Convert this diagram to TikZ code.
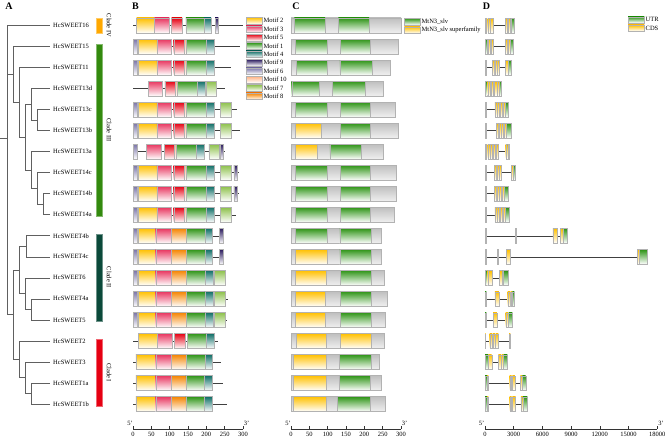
\documentclass[tikz,border=0pt]{standalone}
\usepackage{fontspec}
\setmainfont{Liberation Serif}
\definecolor{m1}{HTML}{2E9416}
\definecolor{m2}{HTML}{FFC000}
\definecolor{m3}{HTML}{E8355F}
\definecolor{m4}{HTML}{0E6E66}
\definecolor{m5}{HTML}{E60012}
\definecolor{m6}{HTML}{7A74A8}
\definecolor{m7}{HTML}{8CC04A}
\definecolor{m8}{HTML}{F58400}
\definecolor{m9}{HTML}{2A1A5E}
\definecolor{m10}{HTML}{FFB080}
\definecolor{utr}{HTML}{2E9416}
\definecolor{cds}{HTML}{FFC000}
\definecolor{cladeI}{HTML}{E60012}
\definecolor{cladeII}{HTML}{0B4A3A}
\definecolor{cladeIII}{HTML}{338A0E}
\definecolor{cladeIV}{HTML}{FFA800}
\begin{document}
\begin{tikzpicture}[x=1pt, y=-1pt,
  swtree/.style = {draw=gray!75!black, line width=0.6pt},
  swlbl/.style = {font=\fontsize{6.5}{7}\selectfont, inner sep=0pt},
  swpanel/.style = {font=\fontsize{10}{12}\selectfont\bfseries, inner sep=0pt},
  swclade/.style = {font=\fontsize{6.5}{7}\selectfont, inner sep=0pt, rotate=-90},
  swbox/.style = {draw=gray!60, line width=0.35pt, top color=#1, middle color=#1!85, bottom color=white},
  swgray/.style = {draw=gray!60, line width=0.35pt, top color=gray!50, bottom color=gray!12},
  swline/.style = {draw=black!75, line width=0.5pt},
  swaxis/.style = {draw=black!80, line width=0.5pt}
]
\useasboundingbox (0,0) rectangle (667,438);
% 标题
\node[swpanel] (pA) at (9,6.5) {A};
\node[swpanel] (pB) at (135.5,6.5) {B};
\node[swpanel] (pC) at (296,6.5) {C};
\node[swpanel] (pD) at (486.5,6.5) {D};

% 进化树
\foreach \row/\nm in {1/16, 2/15, 3/11, 4/13d, 5/13c, 6/13b, 7/13a, 8/14c, 9/14b, 10/14a,
  11/4b, 12/4c, 13/6, 14/4a, 15/5, 16/2, 17/3, 18/1a, 19/1b}{
  \pgfmathsetmacro\yy{25.5+21.03*(\row-1)}
  \coordinate (t\nm) at (50,\yy);
  \node[swlbl, anchor=west] (n\nm) at (53,\yy) {HcSWEET\nm};
}
\coordinate (xbase) at (0,138.2);
\coordinate (xroot) at (7,138.2);
\coordinate (xIII) at (13,74.46);
\coordinate (x11) at (19,102.39);
\coordinate (x13) at (25,137.22);
\coordinate (x13d) at (31,104.36);
\coordinate (x13cb) at (37,120.14);
\coordinate (x13a) at (31,170.08);
\coordinate (x14c) at (37,188.48);
\coordinate (x14ba) at (43,204.26);
\coordinate (xIIandI) at (13,314.66);
\coordinate (xII) at (19,269.97);
\coordinate (x4bc) at (26,246.32);
\coordinate (x6) at (25,293.63);
\coordinate (x4a5) at (31,309.41);
\coordinate (xI) at (19,359.36);
\coordinate (x3) at (25,377.76);
\coordinate (x1ab) at (31,393.53);
\draw[swtree] (xbase) -- (xroot);
\foreach \p/\q in {xroot/t16, xroot/xIII, xroot/xIIandI, xIII/t15, xIII/x11, x11/t11, x11/x13,
  x13/x13d, x13/x13a, x13d/t13d, x13d/x13cb, x13cb/t13c, x13cb/t13b, x13a/t13a, x13a/x14c,
  x14c/t14c, x14c/x14ba, x14ba/t14b, x14ba/t14a, xIIandI/xII, xIIandI/xI, xII/x4bc, xII/x6,
  x4bc/t4b, x4bc/t4c, x6/t6, x6/x4a5, x4a5/t4a, x4a5/t5, xI/t2, xI/x3, x3/t3, x3/x1ab,
  x1ab/t1a, x1ab/t1b}
  \draw[swtree] (\p) |- (\q);

% 分组
\draw[draw=cladeIV!60, fill=cladeIV] (96.5,18.5) rectangle (102.5,33.5);
\draw[draw=cladeIII!60, fill=cladeIII] (96.5,44) rectangle (102.5,216.5);
\draw[draw=cladeII!60, fill=cladeII] (96.5,234) rectangle (102.5,321.5);
\draw[draw=cladeI!60, fill=cladeI] (96.5,339) rectangle (102.5,406);
\node[swclade] (kIV) at (109,25.5) {Clade IV};
\node[swclade] (kIII) at (109,130) {Clade III};
\node[swclade] (kII) at (109,277.5) {Clade II};
\node[swclade] (kI) at (109,372.5) {Clade I};

% 基序
\foreach \row/\len/\mlist in {
  1/301/{10/58/m2, 58/99/m3, 105/134/m5, 144/194/m1, 194/213/m4, 224/233/m9},
  2/292/{1/12/m6, 14/65/m2, 65/105/m3, 111/140/m5, 140/145/m10, 145/199/m1, 199/221/m4},
  3/267/{1/12/m6, 14/65/m2, 65/105/m3, 111/140/m5, 140/145/m10, 145/199/m1, 199/221/m4},
  4/251/{42/80/m3, 87/116/m5, 116/121/m10, 121/176/m1, 176/196/m4, 199/226/m7},
  5/283/{1/12/m6, 14/65/m2, 65/105/m3, 111/140/m5, 140/145/m10, 145/199/m1, 199/221/m4, 239/267/m7},
  6/292/{1/12/m6, 14/65/m2, 65/105/m3, 111/140/m5, 140/145/m10, 145/199/m1, 199/221/m4, 239/267/m7},
  7/251/{1/12/m6, 37/78/m3, 85/113/m5, 113/118/m10, 118/172/m1, 172/193/m4, 207/235/m7, 237/247/m9},
  8/288/{1/12/m6, 14/65/m2, 65/105/m3, 111/140/m5, 140/145/m10, 145/199/m1, 199/221/m4, 239/267/m7, 275/284/m9},
  9/288/{1/12/m6, 14/65/m2, 65/105/m3, 111/140/m5, 140/145/m10, 145/199/m1, 199/221/m4, 239/267/m7, 275/284/m9},
  10/280/{1/12/m6, 14/65/m2, 65/105/m3, 111/140/m5, 140/145/m10, 145/199/m1, 199/221/m4, 239/267/m7},
  11/245/{1/11/m6, 13/62/m2, 62/105/m3, 105/146/m8, 146/196/m1, 196/217/m4, 235/245/m9},
  12/245/{1/11/m6, 13/62/m2, 62/105/m3, 105/146/m8, 146/196/m1, 196/217/m4, 235/245/m9},
  13/251/{1/11/m6, 13/62/m2, 62/105/m3, 105/146/m8, 146/196/m1, 196/219/m4, 221/251/m7},
  14/258/{1/11/m6, 13/62/m2, 62/105/m3, 105/146/m8, 146/196/m1, 196/219/m4, 221/251/m7},
  15/256/{1/11/m6, 13/62/m2, 62/105/m3, 105/146/m8, 146/196/m1, 196/219/m4, 221/251/m7},
  16/231/{14/66/m2, 66/108/m3, 113/142/m5, 149/199/m1, 199/220/m4},
  17/240/{8/62/m2, 62/105/m3, 105/146/m8, 146/198/m1, 198/217/m4},
  18/245/{8/62/m2, 62/103/m3, 103/144/m8, 144/195/m1, 195/215/m4},
  19/256/{8/62/m2, 62/103/m3, 103/144/m8, 144/195/m1, 195/215/m4}}{
  \pgfmathsetmacro\yy{25.5+21.03*(\row-1)}
  \draw[swline] (133,\yy) -- ({133+0.3667*\len},\yy);
  \foreach \ms/\me/\mc in \mlist
    \draw[swbox=\mc] ({133+0.3667*\ms},{\yy-7.5}) rectangle ({133+0.3667*\me},{\yy+7.5});
}
\foreach \k/\mc/\txt in {0/m2/Motif 2, 1/m3/Motif 3, 2/m5/Motif 5, 3/m1/Motif 1, 4/m4/Motif 4,
  5/m9/Motif 9, 6/m6/Motif 6, 7/m10/Motif 10, 8/m7/Motif 7, 9/m8/Motif 8}{
  \pgfmathsetmacro\ly{20.7+8.4*\k}
  \draw[swbox=\mc] (246,{\ly-3.3}) rectangle (262,{\ly+3.3});
  \node[swlbl, anchor=west] (lgB\k) at (263.5,\ly) {\txt};
}

% 结构域
\foreach \row/\len/\mlist in {
  1/300/{9/93/m1, 129/213/m1}, 2/292/{12/99/m1, 134/216/m1}, 3/270/{15/99/m1, 133/221/m1},
  4/252/{2/78/m1, 113/201/m1}, 5/285/{12/99/m1, 134/216/m1}, 6/292/{12/83/m2, 134/216/m1},
  7/252/{12/72/m2, 106/190/m1}, 8/287/{12/99/m1, 134/216/m1}, 9/287/{12/99/m1, 134/216/m1},
  10/280/{12/99/m1, 134/216/m1}, 11/247/{11/99/m1, 133/218/m1}, 12/247/{12/99/m2, 133/218/m1},
  13/253/{11/95/m2, 134/218/m1}, 14/261/{12/93/m2, 134/218/m1}, 15/256/{12/93/m2, 134/218/m1},
  16/253/{14/97/m2, 134/218/m2}, 17/240/{7/97/m2, 131/218/m1}, 18/247/{7/95/m2, 131/215/m1},
  19/256/{7/95/m2, 127/215/m1}}{
  \pgfmathsetmacro\yy{25.5+21.03*(\row-1)}
  \draw[swgray] (291,{\yy-7.5}) rectangle ({291+0.3667*\len},{\yy+7.5});
  \foreach \ms/\me/\mc in \mlist
    \draw[swbox=\mc] ({291+0.3667*\ms},{\yy-7.5}) rectangle ({291+0.3667*\me},{\yy+7.5});
}
\draw[swbox=m1] (404.3,18.3) rectangle (420,25);
\draw[swbox=m2] (404.3,26.7) rectangle (420,33.3);
\node[swlbl, anchor=west] (lgC1) at (421.5,21.6) {MtN3\_slv};
\node[swlbl, anchor=west] (lgC2) at (421.5,30) {MtN3\_slv superfamily};

% 基因结构
\foreach \row/\len/\mlist in {
  1/3.03/{0/0.17/utr, 0.28/0.49/cds, 0.59/0.84/cds, 2.09/2.33/cds, 2.44/2.64/cds, 2.71/3.03/utr},
  2/2.92/{0/0.24/utr, 0.35/0.56/cds, 0.63/0.84/cds, 2.09/2.33/cds, 2.40/2.64/cds, 2.68/2.92/utr},
  3/2.78/{0/0.10/utr, 0.77/0.97/cds, 1.04/1.25/cds, 1.32/1.53/cds, 2.09/2.44/cds, 2.44/2.78/utr},
  4/1.74/{0/0.21/utr, 0.28/0.56/cds, 0.63/0.90/cds, 0.97/1.25/cds, 1.32/1.53/cds, 1.53/1.74/utr},
  5/2.44/{0/0.14/utr, 1.04/1.25/cds, 1.32/1.53/cds, 1.60/1.81/cds, 1.88/2.09/cds, 2.09/2.44/utr},
  6/2.78/{0/0.14/utr, 1.18/1.39/cds, 1.46/1.67/cds, 1.74/1.95/cds, 2.02/2.23/cds, 2.23/2.78/utr},
  7/2.51/{0/0.17/utr, 0.28/0.49/cds, 0.56/0.77/cds, 0.90/1.11/cds, 1.18/1.39/cds, 2.16/2.40/cds, 2.40/2.51/utr},
  8/3.20/{0/0.14/utr, 0.97/1.18/cds, 1.25/1.46/cds, 1.53/1.74/cds, 2.78/2.99/cds, 2.99/3.20/utr},
  9/2.37/{0/0.14/utr, 0.97/1.18/cds, 1.25/1.46/cds, 1.53/1.74/cds, 1.81/2.02/cds, 2.02/2.37/utr},
  10/2.51/{0/0.14/utr, 1.04/1.25/cds, 1.32/1.53/cds, 1.60/1.81/cds, 1.88/2.09/cds, 2.09/2.51/utr},
  11/8.60/{0/0.14/utr, 3.20/3.27/cds, 7.10/7.55/cds, 7.90/8.14/cds, 8.14/8.60/utr},
  12/16.95/{0/0.14/utr, 1.32/1.39/cds, 2.23/2.64/cds, 15.90/16.15/cds, 16.15/16.95/utr},
  13/2.44/{0/0.21/utr, 0.28/0.77/cds, 1.53/1.81/cds, 1.88/2.44/utr},
  14/3.06/{0/0.14/utr, 1.04/1.46/cds, 2.37/2.64/cds, 2.71/2.85/cds, 2.85/3.06/utr},
  15/2.85/{0/0.14/utr, 0.84/1.25/cds, 2.16/2.40/cds, 2.47/2.85/utr},
  16/2.64/{0/0.07/cds, 0.49/0.77/cds, 0.84/1.04/cds, 1.11/1.39/cds, 2.51/2.64/cds},
  17/2.33/{0/0.35/utr, 0.35/0.70/cds, 1.39/1.67/cds, 1.74/1.95/cds, 1.95/2.33/utr},
  18/4.25/{0/0.21/utr, 0.21/0.35/cds, 2.58/2.78/cds, 2.85/3.13/cds, 3.69/3.90/cds, 3.90/4.25/utr},
  19/4.42/{0/0.21/utr, 0.21/0.35/cds, 2.58/2.78/cds, 2.85/3.20/cds, 3.76/3.97/cds, 3.97/4.42/utr}}{
  \pgfmathsetmacro\yy{25.5+21.03*(\row-1)}
  \draw[swline] (485,\yy) -- ({485+9.57*\len},\yy);
  \foreach \ms/\me/\mc in \mlist
    \draw[swbox=\mc] ({485+9.57*\ms},{\yy-7.2}) rectangle ({485+9.57*\me},{\yy+7.2});
}
\draw[swbox=utr] (628,16.7) rectangle (644.3,22.7);
\draw[swbox=cds] (628,25) rectangle (644.3,31);
\node[swlbl, anchor=west] (lgD1) at (645.5,19.7) {UTR};
\node[swlbl, anchor=west] (lgD2) at (645.5,28) {CDS};

% 坐标轴
\draw[swaxis] (133,429) -- (243,429);
\draw[swaxis] (291,429) -- (401,429);
\draw[swaxis] (485,429) -- (657.3,429);
\foreach \v in {0,50,...,300}{
  \draw[swaxis] ({133+0.3667*\v},429) -- ++(0,-3);
  \draw[swaxis] ({291+0.3667*\v},429) -- ++(0,-3);
  \node[swlbl] (tb\v) at ({133+0.3667*\v},434.3) {\v};
  \node[swlbl] (tc\v) at ({291+0.3667*\v},434.3) {\v};
}
\foreach \v/\lab in {0/0, 3/3000, 6/6000, 9/9000, 12/12000, 15/15000, 18/18000}{
  \draw[swaxis] ({485+9.57*\v},429) -- ++(0,-3);
  \node[swlbl] (td\v) at ({485+9.57*\v},434.3) {\lab};
}
\node[swlbl] (b5) at (130,423.5) {5'};
\node[swlbl] (b3) at (246.5,423.5) {3'};
\node[swlbl] (c5) at (288,423.5) {5'};
\node[swlbl] (c3) at (404.5,423.5) {3'};
\node[swlbl] (d5) at (481.5,423.5) {5'};
\node[swlbl] (d3) at (661,423.5) {3'};
\end{tikzpicture}
\end{document}
